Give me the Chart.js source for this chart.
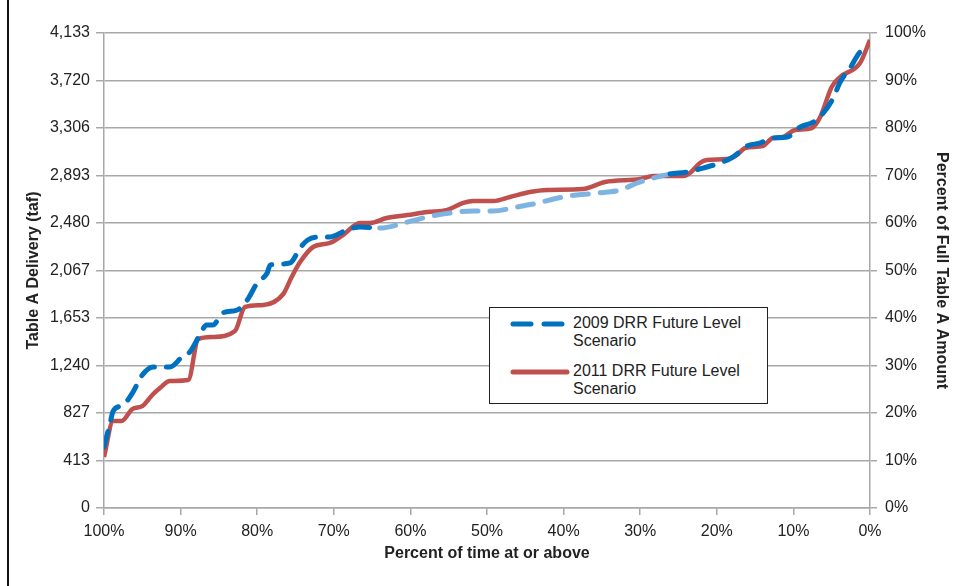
<!DOCTYPE html>
<html>
<head>
<meta charset="utf-8">
<script src="https://cdn.jsdelivr.net/npm/chart.js@4.4.1/dist/chart.umd.min.js"></script>
<style>
  html, body { margin: 0; padding: 0; background: #fff; }
  #wrap { position: relative; width: 954px; height: 586px; }
  #frame { position: absolute; left: 7px; top: 0; width: 2px; height: 586px; background: #111; }
  #legend {
    position: absolute; left: 489px; top: 307px; width: 277px; height: 95px;
    border: 1.5px solid #222; background: #fff;
    font-family: "Liberation Sans", Arial, sans-serif; font-size: 16px; color: #222;
  }
  .item { position: absolute; left: 0; }
  .item svg { position: absolute; left: 20px; }
  .item .txt { position: absolute; left: 83px; line-height: 18px; white-space: nowrap; }
</style>
</head>
<body>
<div id="wrap">
  <canvas id="chart" width="954" height="586"></canvas>
  <div id="frame"></div>
  <div id="legend">
    <div class="item" style="top:6px">
      <svg width="60" height="12" style="top:4px"><line x1="3" y1="6" x2="57" y2="6" stroke="#0070C0" stroke-width="5" stroke-linecap="round" stroke-dasharray="18 13"/></svg>
      <div class="txt">2009 DRR Future Level<br>Scenario</div>
    </div>
    <div class="item" style="top:54px">
      <svg width="60" height="12" style="top:4px"><line x1="3" y1="6" x2="57" y2="6" stroke="#C0504D" stroke-width="5" stroke-linecap="round"/></svg>
      <div class="txt">2011 DRR Future Level<br>Scenario</div>
    </div>
  </div>
</div>
<script>
// exceedance percentages and deliveries (taf)
const pct2009 = [100, 99.2, 98.8, 97.5, 96.3, 95.0, 93.6, 91.4, 89.8, 88.8, 87.5, 86.6, 85.8, 84.5, 82.6, 81.3, 80.0, 78.7, 78.3, 77.0,
  75.7, 74.4, 73.4, 71.8, 70.5, 68.3, 66.6, 64.0, 60.4, 57.8, 54.8, 51.8, 49.2, 46.1, 44.0, 40.1, 38.3, 34.3, 32.6, 30.4,
  28.3, 26.1, 23.9, 21.8, 19.6, 17.9, 16.1, 14.4, 12.7, 10.8, 9.1, 7.4, 6.1, 4.8, 3.9, 2.6, 1.3, 0];
const val2009 = [531, 740, 844, 896, 1000, 1157, 1227, 1227, 1314, 1357, 1505, 1592, 1592, 1697, 1723, 1810, 1958, 2045, 2114, 2123,
  2132, 2262, 2332, 2358, 2358, 2419, 2445, 2436, 2488, 2532, 2567, 2584, 2584, 2619, 2645, 2706, 2723, 2749, 2767, 2828,
  2871, 2906, 2923, 2958, 3002, 3054, 3149, 3175, 3219, 3228, 3315, 3358, 3437, 3567, 3706, 3828, 3967, 4010];

const pct2011 = [100, 98.8, 97.7, 96.3, 95.0, 93.7, 92.7, 91.4, 89.0, 87.7, 85.8, 82.9, 81.6, 79.2, 76.6, 75.5, 74.4, 72.7, 70.5, 68.8,
  66.6, 65.3, 63.1, 60.4, 57.8, 55.2, 53.1, 51.8, 49.2, 47.0, 44.4, 42.2, 37.5, 34.6, 30.0, 28.3, 24.4, 23.5, 22.2, 21.3,
  18.7, 17.4, 16.3, 14.0, 12.7, 11.4, 9.8, 7.6, 6.5, 5.0, 3.9, 1.3, 0];
const val2011 = [444, 757, 757, 861, 887, 983, 1044, 1105, 1114, 1470, 1488, 1540, 1749, 1766, 1862, 2010, 2140, 2271, 2306, 2375,
  2480, 2480, 2523, 2549, 2575, 2593, 2654, 2671, 2671, 2706, 2749, 2767, 2775, 2836, 2862, 2888, 2888, 2915, 3002, 3028,
  3036, 3071, 3132, 3149, 3219, 3228, 3289, 3306, 3402, 3663, 3750, 3872, 4072];

const leftTicks = [0, 413.3, 826.6, 1239.9, 1653.2, 2066.5, 2479.8, 2893.1, 3306.4, 3719.7, 4133];
const leftTickLabels = ['0', '413', '827', '1,240', '1,653', '2,067', '2,480', '2,893', '3,306', '3,720', '4,133'];
const rightTicks = [0, 10, 20, 30, 40, 50, 60, 70, 80, 90, 100];
const xTicks = [100, 90, 80, 70, 60, 50, 40, 30, 20, 10, 0];

const FONT = '"Liberation Sans", Arial, sans-serif';
const GRID = '#a8a8a8';
const TXT = '#222';

const toPoints = (xs, ys) => xs.map((x, i) => ({ x: x, y: ys[i] }));

new Chart(document.getElementById('chart'), {
  type: 'line',
  data: {
    datasets: [
      {
        label: '2009 DRR Future Level Scenario',
        data: toPoints(pct2009, val2009),
        borderColor: '#0070C0',
        borderWidth: 5,
        borderDash: [16, 12],
        borderCapStyle: 'round',
        borderJoinStyle: 'round',
        pointRadius: 0,
        cubicInterpolationMode: 'monotone',
        segment: {
          borderColor: ctx => (ctx.p0.parsed.x < 66 && ctx.p0.parsed.x > 28) ? '#7DB4E2' : '#0070C0'
        }
      },
      {
        label: '2011 DRR Future Level Scenario',
        data: toPoints(pct2011, val2011),
        borderColor: '#C0504D',
        borderWidth: 4.5,
        borderJoinStyle: 'round',
        pointRadius: 0,
        cubicInterpolationMode: 'monotone'
      }
    ]
  },
  options: {
    responsive: false,
    animation: false,
    layout: { padding: { top: 33, left: 0, right: 0, bottom: 0 } },
    plugins: { legend: { display: false }, tooltip: { enabled: false } },
    scales: {
      x: {
        type: 'linear',
        min: 0, max: 100,
        reverse: true,
        afterBuildTicks: s => { s.ticks = xTicks.map(v => ({ value: v })); },
        afterFit: s => { s.height = 78; },
        ticks: { color: TXT, font: { family: FONT, size: 16 }, padding: 7, maxRotation: 0, callback: v => v + '%' },
        grid: { drawOnChartArea: false, color: GRID, lineWidth: 1.5, tickLength: 7 },
        border: { color: GRID, width: 1.5 },
        title: { display: true, text: 'Percent of time at or above', color: TXT,
                 font: { family: FONT, size: 16, weight: 'bold' }, padding: { top: 0, bottom: 23 } }
      },
      y: {
        position: 'left',
        min: 0, max: 4133,
        afterBuildTicks: s => { s.ticks = leftTicks.map(v => ({ value: v })); },
        afterFit: s => { s.width = 104; },
        ticks: { color: TXT, font: { family: FONT, size: 16 }, padding: 6,
                 callback: (v, i) => leftTickLabels[i] },
        grid: { color: GRID, lineWidth: 1.5, tickLength: 8 },
        border: { color: GRID, width: 1.5 },
        title: { display: true, text: 'Table A Delivery (taf)', color: TXT,
                 font: { family: FONT, size: 16, weight: 'bold' }, padding: { top: 24, bottom: 0 } }
      },
      y2: {
        position: 'right',
        min: 0, max: 100,
        afterBuildTicks: s => { s.ticks = rightTicks.map(v => ({ value: v })); },
        afterFit: s => { s.width = 84; },
        ticks: { color: TXT, font: { family: FONT, size: 16 }, padding: 8, callback: v => v + '%' },
        grid: { drawOnChartArea: false, color: GRID, lineWidth: 1.5, tickLength: 7 },
        border: { color: GRID, width: 1.5 },
        title: { display: true, text: 'Percent of Full Table A Amount', color: TXT,
                 font: { family: FONT, size: 16, weight: 'bold' }, padding: { top: 3, bottom: 0 } }
      }
    }
  }
});
</script>
</body>
</html>
